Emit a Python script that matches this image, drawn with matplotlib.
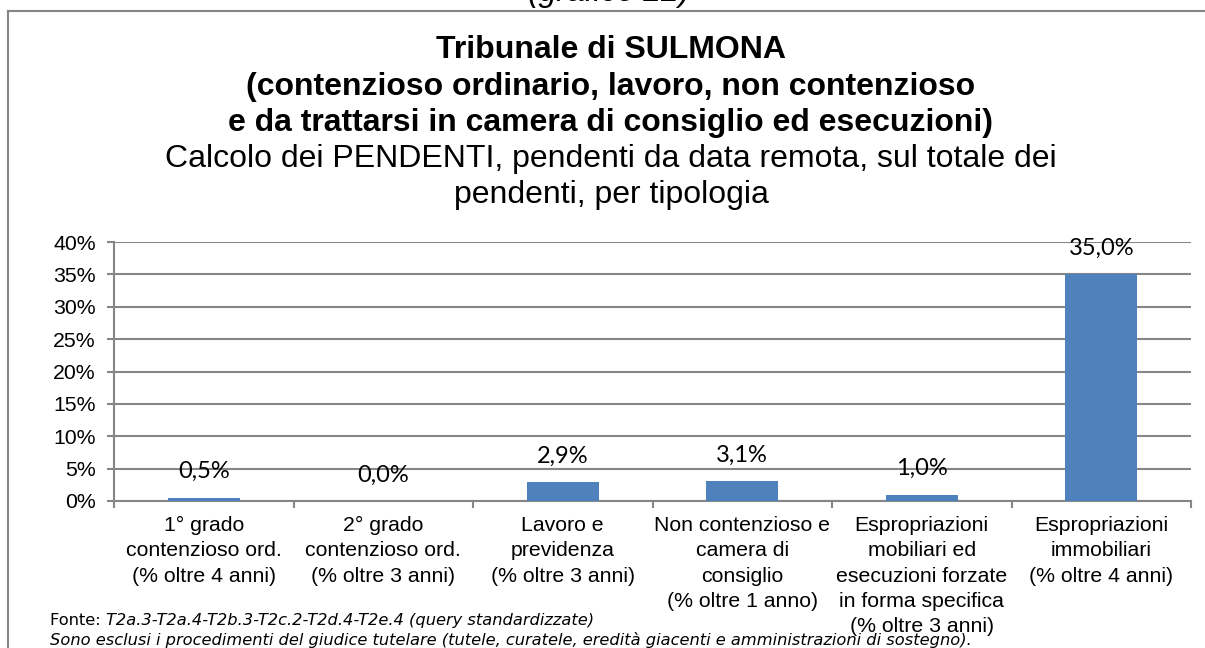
import matplotlib
matplotlib.use("Agg")
import matplotlib.pyplot as plt
from matplotlib.lines import Line2D
import numpy as np

# ---- data ----
categories = [
    "1° grado\ncontenzioso ord.\n(% oltre 4 anni)",
    "2° grado\ncontenzioso ord.\n(% oltre 3 anni)",
    "Lavoro e\nprevidenza\n(% oltre 3 anni)",
    "Non contenzioso e\ncamera di\nconsiglio\n(% oltre 1 anno)",
    "Espropriazioni\nmobiliari ed\nesecuzioni forzate\nin forma specifica\n(% oltre 3 anni)",
    "Espropriazioni\nimmobiliari\n(% oltre 4 anni)",
]
values = [0.5, 0.0, 2.9, 3.1, 1.0, 35.0]
y_ticks = [0, 5, 10, 15, 20, 25, 30, 35, 40]

title_lines = [
    "Tribunale di SULMONA",
    "(contenzioso ordinario, lavoro, non contenzioso",
    "e da trattarsi in camera di consiglio ed esecuzioni)",
]
subtitle_lines = [
    "Calcolo dei PENDENTI, pendenti da data remota, sul totale dei",
    "pendenti, per tipologia",
]
top_note = "(grafico 22)"
source_label = "Fonte: "
source_text = "T2a.3-T2a.4-T2b.3-T2c.2-T2d.4-T2e.4 (query standardizzate)"
note_text = ("Sono esclusi i procedimenti del giudice tutelare (tutele, curatele, "
             "eredità giacenti e amministrazioni di sostegno).")

# ---- figure ----
W, H = 1205, 648
fig = plt.figure(figsize=(W / 100, H / 100), dpi=100)
fig.patch.set_facecolor("white")

def fx(x):
    return x / W

def fy(y):
    return 1 - y / H

ARIAL = "Liberation Sans"
GRID = "#868686"
LBL = 15.3

ax = fig.add_axes([fx(114), fy(501), fx(1191) - fx(114), fy(242) - fy(501)])
x = np.arange(len(values))
ax.bar(x, values, width=0.4, color="#4F81BD", zorder=3)
ax.set_xlim(-0.5, len(values) - 0.5)
ax.set_ylim(0, 40)

ax.set_yticks(y_ticks)
ax.set_yticklabels([f"{v}%" for v in y_ticks], fontfamily=ARIAL, fontsize=LBL)
ax.yaxis.grid(True, color=GRID, linewidth=1.5, zorder=0)
ax.set_axisbelow(True)

ax.set_xticks(np.arange(-0.5, len(values), 1.0))
ax.set_xticklabels([])
ax.set_xticks(x, minor=True)
ax.set_xticklabels(categories, minor=True, fontfamily=ARIAL, fontsize=LBL,
                   linespacing=1.41, va="top")
ax.tick_params(axis="x", which="minor", length=0, pad=11)
ax.tick_params(axis="x", which="major", length=5, width=1.5, color=GRID)
ax.tick_params(axis="y", which="major", length=5, width=1.5, color=GRID, pad=8)

for s in ["top", "right"]:
    ax.spines[s].set_visible(False)
for s in ["left", "bottom"]:
    ax.spines[s].set_color(GRID)
    ax.spines[s].set_linewidth(1.5)

for xi, v in zip(x, values):
    ax.annotate(f"{v:.1f}%".replace(".", ","), (xi, v), xytext=(0, 14),
                textcoords="offset points", ha="center", va="baseline",
                fontfamily="Lato", fontsize=17, color="black", zorder=4)

# ---- titles ----
cx = fx(611)
for line, base in zip(title_lines, [57.5, 94.5, 131.5]):
    fig.text(cx, fy(base), line, ha="center", va="baseline",
             fontfamily=ARIAL, fontweight="bold", fontsize=23)
for line, base in zip(subtitle_lines, [167.5, 203.5]):
    fig.text(cx, fy(base), line, ha="center", va="baseline",
             fontfamily=ARIAL, fontsize=23)

fig.text(fx(609), fy(1), top_note, ha="center", va="baseline",
         fontfamily=ARIAL, fontstyle="italic", fontsize=23)

# ---- border ----
fig.add_artist(Line2D([fx(8), fx(1205)], [fy(10.5), fy(10.5)],
                      transform=fig.transFigure, color=GRID, linewidth=1.5))
fig.add_artist(Line2D([fx(8), fx(8)], [fy(10.5), fy(648)],
                      transform=fig.transFigure, color=GRID, linewidth=1.5))

# ---- footnotes ----
FN = 11.7
t1 = fig.text(fx(50), fy(625), source_label, ha="left", va="baseline",
              fontfamily="DejaVu Sans", fontsize=FN)
fig.canvas.draw()
r = fig.canvas.get_renderer()
bb = t1.get_window_extent(renderer=r)
fig.text(bb.x1 / W, fy(625), source_text, ha="left", va="baseline",
         fontfamily="DejaVu Sans", fontstyle="italic", fontsize=FN)
fig.text(fx(50), fy(645), note_text, ha="left", va="baseline",
         fontfamily="DejaVu Sans", fontstyle="italic", fontsize=FN)

fig.savefig("out.png", dpi=100)
